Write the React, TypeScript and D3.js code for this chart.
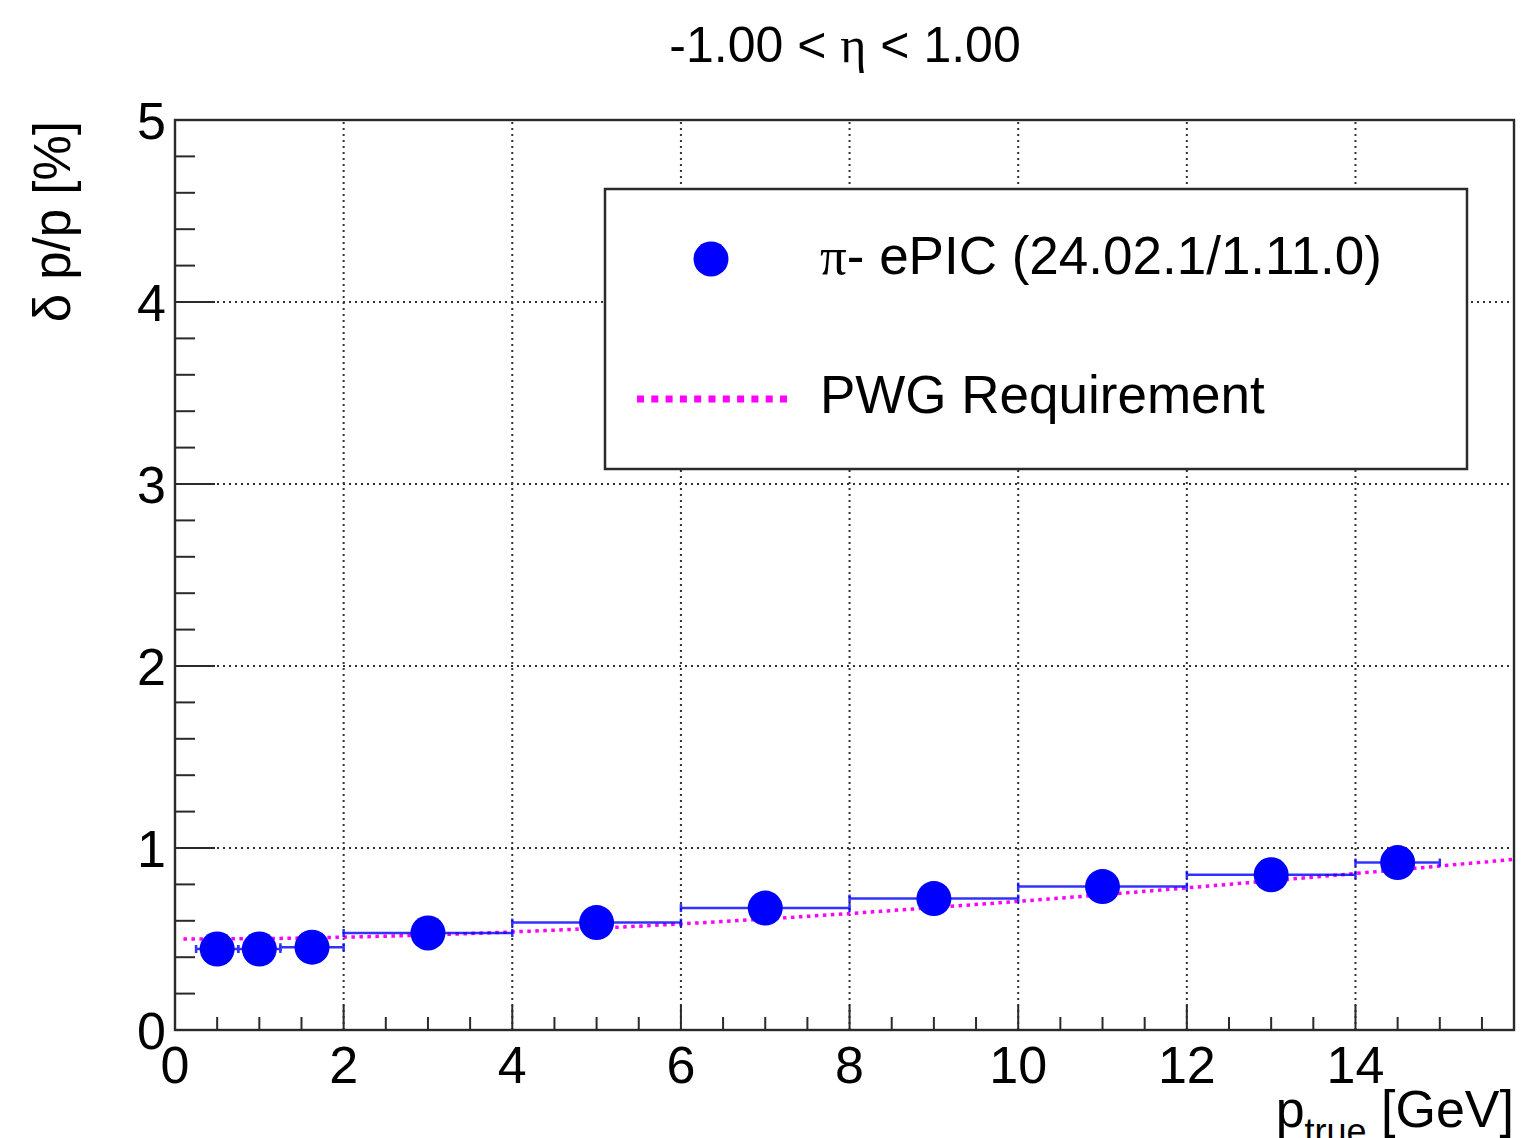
import React from "react";
import * as d3 from "d3";

// ---- data ----
const pointX = [0.5, 1.0, 1.625, 3, 5, 7, 9, 11, 13, 14.5];
const binLow = [0.25, 0.75, 1.25, 2, 4, 6, 8, 10, 12, 14];
const binHigh = [0.75, 1.25, 2, 4, 6, 8, 10, 12, 14, 15];
const resolution = [0.445, 0.445, 0.455, 0.533, 0.59, 0.67, 0.722, 0.788, 0.853, 0.92];

const reqP = [0.1, 1, 2, 3, 4, 5, 6, 7, 8, 9, 10, 11, 12, 13, 14, 15, 16];
const reqValue = [0.5, 0.502, 0.51, 0.522, 0.539, 0.559, 0.583, 0.61, 0.64, 0.673, 0.707, 0.743, 0.781, 0.82, 0.86, 0.901, 0.943];

const xTicks = [0, 2, 4, 6, 8, 10, 12, 14];
const yTicks = [0, 1, 2, 3, 4, 5];

const title = "-1.00 < η < 1.00";
const legendData = "π- ePIC (24.02.1/1.11.0)";
const legendReq = "PWG Requirement";

const W = 1522;
const H = 1138;
const L = 175, R = 1514, T = 120, B = 1030;
const FONT = "'Liberation Sans', Arial, Helvetica, sans-serif";
const SERIF = "'Liberation Serif', 'DejaVu Serif', serif";

export default function App() {
  const x = d3.scaleLinear().domain([0, 15.88]).range([L, R]);
  const y = d3.scaleLinear().domain([0, 5]).range([B, T]);

  const xMinor = d3.range(0, 15.88, 0.5).filter((v) => Math.abs(v % 2) > 1e-6);
  const yMinor = d3.range(0, 5.0001, 0.2).filter((v) => Math.abs(v - Math.round(v)) > 1e-6);

  const reqLine = d3
    .line<number>()
    .x((_, i) => x(reqP[i]))
    .y((d) => y(d))
    .curve(d3.curveMonotoneX)(reqValue) as string;

  const axisColor = "#2a2a2a";
  const gridColor = "#333";
  const blue = "#0000ff";
  const magenta = "#ff00ff";

  return (
    <svg
      width={W}
      height={H}
      style={{ position: "absolute", left: 0, top: 0, background: "#fff" }}
      fontFamily={FONT}
    >
      <rect x={0} y={0} width={W} height={H} fill="#fff" />
      <defs>
        <clipPath id="frame">
          <rect x={L} y={T} width={R - L} height={B - T} />
        </clipPath>
      </defs>

      {/* grid */}
      <g stroke={gridColor} strokeWidth={2} strokeDasharray="2 4">
        {xTicks.filter((v) => v > 0).map((v) => (
          <line key={"gx" + v} x1={x(v)} x2={x(v)} y1={B} y2={T} />
        ))}
        {yTicks.filter((v) => v > 0 && v < 5).map((v) => (
          <line key={"gy" + v} x1={L} x2={R} y1={y(v)} y2={y(v)} />
        ))}
      </g>

      {/* ticks */}
      <g stroke={axisColor} strokeWidth={2}>
        {xTicks.map((v) => (
          <line key={"tx" + v} x1={x(v)} x2={x(v)} y1={B} y2={B - 25} />
        ))}
        {xMinor.map((v) => (
          <line key={"mx" + v} x1={x(v)} x2={x(v)} y1={B} y2={B - 13} />
        ))}
        {yTicks.map((v) => (
          <line key={"ty" + v} x1={L} x2={L + 40} y1={y(v)} y2={y(v)} />
        ))}
        {yMinor.map((v) => (
          <line key={"my" + v} x1={L} x2={L + 20} y1={y(v)} y2={y(v)} />
        ))}
      </g>

      {/* requirement curve */}
      <g clipPath="url(#frame)">
        <path d={reqLine} fill="none" stroke={magenta} strokeWidth={3.5} strokeDasharray="3.5 4.5" />
      </g>

      {/* error bars */}
      <g stroke={blue} strokeWidth={2.5} opacity={0.8}>
        {pointX.map((px, i) => (
          <g key={"eb" + i}>
            <line x1={x(binLow[i])} x2={x(binHigh[i])} y1={y(resolution[i])} y2={y(resolution[i])} />
            <line x1={x(binLow[i])} x2={x(binLow[i])} y1={y(resolution[i]) - 4} y2={y(resolution[i]) + 4} />
            <line x1={x(binHigh[i])} x2={x(binHigh[i])} y1={y(resolution[i]) - 4} y2={y(resolution[i]) + 4} />
          </g>
        ))}
      </g>

      {/* markers */}
      <g fill={blue}>
        {pointX.map((px, i) => (
          <circle key={"pt" + i} cx={x(px)} cy={y(resolution[i])} r={17.5} />
        ))}
      </g>

      {/* frame */}
      <rect x={L} y={T} width={R - L} height={B - T} fill="none" stroke={axisColor} strokeWidth={2.4} />

      {/* tick labels */}
      <g fontSize={52} fill="#000">
        {xTicks.map((v) => (
          <text key={"lx" + v} x={x(v)} y={1083} textAnchor="middle">
            {v}
          </text>
        ))}
        {yTicks.map((v) => (
          <text key={"ly" + v} x={166} y={y(v) + 19} textAnchor="end">
            {v}
          </text>
        ))}
      </g>

      {/* title */}
      <text x={845} y={62} fontSize={50} textAnchor="middle" fill="#000">
        {title.split("η")[0]}
        <tspan fontFamily={SERIF}>η</tspan>
        {title.split("η")[1]}
      </text>

      {/* axis titles */}
      <text transform="translate(70,121) rotate(-90)" fontSize={51} textAnchor="end" fill="#000">
        δ p/p [%]
      </text>
      <text x={1514} y={1127} fontSize={52} textAnchor="end" fill="#000">
        p
        <tspan fontSize={36} dy={17}>true</tspan>
        <tspan dy={-17}> [GeV]</tspan>
      </text>

      {/* legend */}
      <rect x={605} y={189} width={862} height={280} fill="#fff" stroke={axisColor} strokeWidth={2.5} />
      <circle cx={711} cy={259} r={17.5} fill={blue} />
      <text x={820} y={274} fontSize={53} fill="#000">
        <tspan fontFamily={SERIF}>{legendData.slice(0, 1)}</tspan>
        {legendData.slice(1)}
      </text>
      <line x1={637} x2={790} y1={399} y2={399} stroke={magenta} strokeWidth={7} strokeDasharray="7 7.3" />
      <text x={820} y={413} fontSize={53} fill="#000">
        {legendReq}
      </text>
    </svg>
  );
}
